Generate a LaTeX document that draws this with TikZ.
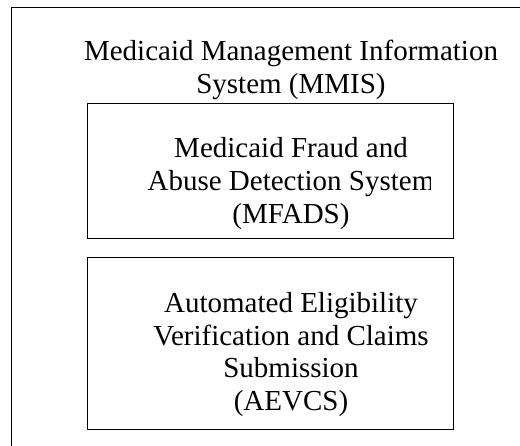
\documentclass[tikz,border=0pt]{standalone}
\usepackage{fontspec}
\setmainfont{Liberation Serif}
\usetikzlibrary{positioning}

\begin{document}
\begin{tikzpicture}[x=1pt, y=-1pt]
	\tikzstyle{frame} = [draw, line width=1.4pt, inner sep=0pt]
	\tikzstyle{boxtext} = [inner sep=0pt, align=center, anchor=base, font=\fontsize{29}{33}\selectfont]

	\useasboundingbox (0,0) rectangle (520,446);
	\clip (0,0) rectangle (520,446);

	% outer MMIS frame, runs off the page on the right and at the bottom
	\node[frame, anchor=north west, minimum width=540pt, minimum height=460pt] (mmis) at (11,7) {};
	\node[boxtext] (mmistext) at (291,94) {Medicaid Management Information\\System (MMIS)};

	% fraud detection box
	\node[frame, anchor=north west, minimum width=366pt, minimum height=135pt] (mfads) at (87,103) {};
	\begin{scope}
		\clip (87,103) rectangle (430,238);
		\node[boxtext] (mfadstext) at (291,224) {Medicaid Fraud and\\Abuse Detection System\\(MFADS)};
	\end{scope}

	% eligibility box
	\node[frame, anchor=north west, minimum width=366pt, minimum height=172pt] (aevcs) at (87,257) {};
	\node[boxtext] (aevcstext) at (291,411) {Automated Eligibility\\Verification and Claims\\Submission\\(AEVCS)};
\end{tikzpicture}
\end{document}
